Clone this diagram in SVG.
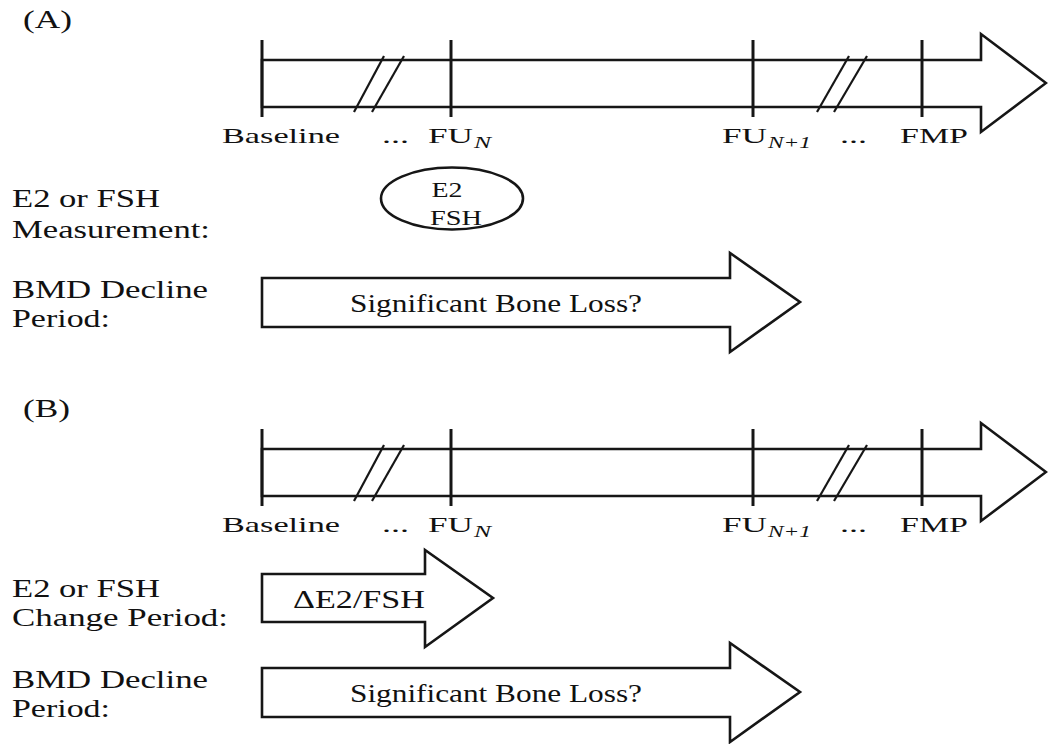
<svg xmlns="http://www.w3.org/2000/svg" width="1048" height="744" viewBox="0 0 1048 744" font-family="'Liberation Serif', 'DejaVu Serif', serif">
<style>
text{font-family:'Liberation Serif','DejaVu Serif',serif;fill:#111}
.tl{font-size:22px}
.lb{font-size:25px}
.sub{font-size:16px;font-style:italic}
.ar{fill:#fff;stroke:#161616;stroke-width:2.6;stroke-linejoin:miter}
.tk{stroke:#161616;stroke-width:3}
.sl{stroke:#161616;stroke-width:2.2}
</style>
<rect width="1048" height="744" fill="#fff"/>
<defs>
<g id="timeline">
<polygon class="ar" points="262,60 981,60 981,34 1046,83 981,132 981,107 262,107"/>
<line class="tk" x1="262" y1="40" x2="262" y2="117"/>
<line class="tk" x1="451" y1="40" x2="451" y2="117"/>
<line class="tk" x1="753" y1="40" x2="753" y2="117"/>
<line class="tk" x1="922" y1="40" x2="922" y2="117"/>
<line class="sl" x1="354" y1="112" x2="384" y2="56"/>
<line class="sl" x1="372" y1="112" x2="404" y2="56"/>
<line class="sl" x1="817" y1="112" x2="849" y2="56"/>
<line class="sl" x1="834" y1="112" x2="867" y2="56"/>
<text class="tl" x="222" y="143" textLength="118" lengthAdjust="spacingAndGlyphs">Baseline</text>
<text class="tl" x="382" y="143" textLength="27" lengthAdjust="spacingAndGlyphs">...</text>
<text class="tl" x="428" y="143" textLength="45" lengthAdjust="spacingAndGlyphs">FU</text>
<text class="sub" x="474" y="148" textLength="17" lengthAdjust="spacingAndGlyphs">N</text>
<text class="tl" x="722" y="143" textLength="45" lengthAdjust="spacingAndGlyphs">FU</text>
<text class="sub" x="768" y="148" textLength="43" lengthAdjust="spacingAndGlyphs">N+1</text>
<text class="tl" x="840" y="143" textLength="27" lengthAdjust="spacingAndGlyphs">...</text>
<text class="tl" x="900" y="143" textLength="68" lengthAdjust="spacingAndGlyphs">FMP</text>
</g>
<g id="bmd">
<text class="lb" x="12" y="298" textLength="196" lengthAdjust="spacingAndGlyphs">BMD Decline</text>
<text class="lb" x="12" y="327" textLength="98" lengthAdjust="spacingAndGlyphs">Period:</text>
<polygon class="ar" points="262,278 730,278 730,253 800,302 730,352 730,327 262,327"/>
<text class="lb" x="350" y="312" textLength="292" lengthAdjust="spacingAndGlyphs">Significant Bone Loss?</text>
</g>
</defs>

<g id="panel-A">
<text id="label-A" class="lb" x="23" y="28" textLength="49" lengthAdjust="spacingAndGlyphs">(A)</text>
<g id="timeline-A"><use href="#timeline"/></g>
<g id="measurement-A">
<text class="lb" x="12" y="207" textLength="148" lengthAdjust="spacingAndGlyphs">E2 or FSH</text>
<text class="lb" x="12" y="238" textLength="198" lengthAdjust="spacingAndGlyphs">Measurement:</text>
<ellipse class="ar" cx="452" cy="198.5" rx="71" ry="31"/>
<text class="tl" x="447" y="197" text-anchor="middle" textLength="31" lengthAdjust="spacingAndGlyphs">E2</text>
<text class="tl" x="456" y="225" text-anchor="middle" textLength="52" lengthAdjust="spacingAndGlyphs">FSH</text>
</g>
<g id="bmd-A"><use href="#bmd"/></g>
</g>

<g id="panel-B">
<text id="label-B" class="lb" x="23" y="417" textLength="47" lengthAdjust="spacingAndGlyphs">(B)</text>
<g id="timeline-B"><use href="#timeline" transform="translate(0,389)"/></g>
<g id="change-B">
<text class="lb" x="12" y="597" textLength="148" lengthAdjust="spacingAndGlyphs">E2 or FSH</text>
<text class="lb" x="12" y="626" textLength="216" lengthAdjust="spacingAndGlyphs">Change Period:</text>
<polygon class="ar" points="262,574 425,574 425,550 493,598 425,647 425,622 262,622"/>
<text class="lb" x="293" y="608" textLength="132" lengthAdjust="spacingAndGlyphs">ΔE2/FSH</text>
</g>
<g id="bmd-B"><use href="#bmd" transform="translate(0,390)"/></g>
</g>
</svg>
